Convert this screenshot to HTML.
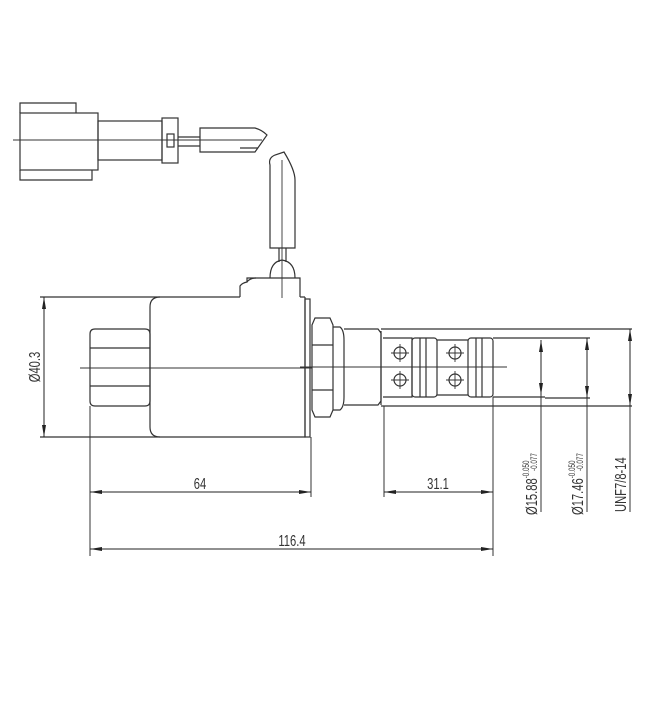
<!DOCTYPE html>
<html><head><style>body{margin:0;background:#fff}svg{display:block}</style></head><body>
<svg width="650" height="717" viewBox="0 0 650 717" xmlns="http://www.w3.org/2000/svg" font-family="Liberation Sans, sans-serif">
<defs><marker id="a" viewBox="0 0 12 4" refX="12" refY="2" markerWidth="12" markerHeight="4" orient="auto-start-reverse" markerUnits="userSpaceOnUse"><path d="M0,0L12,2L0,4z" fill="#222"/></marker></defs>
<g fill="none" stroke="#333" stroke-width="1.2">
<path d="M20,113V103H76V113"/>
<rect x="20" y="113" width="78" height="57"/>
<path d="M20,170V180H92V170"/>
<rect x="98" y="121" width="64" height="39"/>
<rect x="162" y="118" width="16" height="45"/>
<rect x="167" y="134" width="7" height="13"/>
<path d="M178,137H200M178,146H200"/>
<path d="M200,128H255Q262,130 267,135L255,152H200Z"/>
<path d="M240,148H258"/>
<line x1="13" y1="140" x2="262" y2="140" stroke-width="0.9"/>
<path d="M270,248V165Q268,158 275,155L284,152Q295,170 295,180V248Z"/>
<line x1="282" y1="160" x2="282" y2="298" stroke-width="0.9"/>
<path d="M279,248V262M286,248V262"/>
<path d="M270,278Q270,262 282,260Q295,262 295,278"/>
<path d="M240,297V286Q242,283 247,282V278H300V297"/>
<path d="M247,282Q250,278 256,278"/>
<path d="M40,297H240M300,297H305"/>
<path d="M160,297Q150,297 150,307V427Q150,437 160,437H305V297"/>
<path d="M40,437H160"/>
<rect x="305" y="299" width="5" height="138"/>
<path d="M90,334Q90,329 95,329H145Q150,329 150,334V401Q150,406 145,406H95Q90,406 90,401Z"/>
<path d="M90,348H150M90,386H150"/>
<line x1="80" y1="368" x2="150" y2="368" stroke-width="0.9"/>
<path d="M315,318H330L333,325V410L330,417H315L312,410V325Z"/>
<path d="M312,345H333M312,390H333"/>
<path d="M333,327H340Q344,330 344,340V397Q344,407 340,410H333"/>
<path d="M344,329H378L381,333V401L378,405H344"/>
<path d="M381,331V405"/>
<path d="M381,329H632M381,406H632"/>
<path d="M383,338H412V397H383"/>
<rect x="412" y="338" width="25" height="59" rx="3"/>
<path d="M420,338V397M426,338V397"/>
<path d="M437,340H468M437,395H468"/>
<rect x="468" y="338" width="25" height="59" rx="3"/>
<path d="M476,338V397M482,338V397"/>
<path d="M493,338H545M493,397H545M545,338H590M545,398H590"/>
<circle cx="400" cy="353" r="6"/><circle cx="400" cy="380" r="6"/>
<circle cx="455" cy="353" r="6"/><circle cx="455" cy="380" r="6"/>
<path d="M391,353H409M400,344V362M391,380H409M400,371V389M446,353H464M455,344V362M446,380H464M455,371V389" stroke-width="0.9"/>
<line x1="300" y1="367" x2="507" y2="367" stroke-width="0.9"/>
<line x1="150" y1="368" x2="312" y2="368" stroke-width="0.9"/>
<path d="M90,406V556M311,437V497M384,406V497M493,397V556" stroke-width="1"/>
<path d="M541,340V512M587,338V512M630,329V512" stroke-width="1"/>
</g>
<g stroke="#222" stroke-width="1" fill="none">
<line x1="44" y1="297" x2="44" y2="437" marker-start="url(#a)" marker-end="url(#a)"/>
<line x1="90" y1="492" x2="311" y2="492" marker-start="url(#a)" marker-end="url(#a)"/>
<line x1="384" y1="492" x2="493" y2="492" marker-start="url(#a)" marker-end="url(#a)"/>
<line x1="90" y1="549" x2="493" y2="549" marker-start="url(#a)" marker-end="url(#a)"/>
<line x1="541" y1="340" x2="541" y2="395" marker-start="url(#a)" marker-end="url(#a)"/>
<line x1="587" y1="338" x2="587" y2="398" marker-start="url(#a)" marker-end="url(#a)"/>
<line x1="630" y1="329" x2="630" y2="406" marker-start="url(#a)" marker-end="url(#a)"/>
</g>
<g fill="#333" font-size="16">
<text transform="translate(200,489) scale(0.7,1)" text-anchor="middle">64</text>
<text transform="translate(438,489) scale(0.7,1)" text-anchor="middle">31.1</text>
<text transform="translate(292,546) scale(0.7,1)" text-anchor="middle">116.4</text>
<text transform="translate(40,367) rotate(-90) scale(0.7,1)" text-anchor="middle">Ø40.3</text>
<text transform="translate(537,515) rotate(-90) scale(0.7,1)">Ø15.88<tspan font-size="9" dy="-8">-0.050</tspan></text>
<text transform="translate(537,471) rotate(-90) scale(0.7,1)" font-size="9">-0.077</text>
<text transform="translate(583,515) rotate(-90) scale(0.7,1)">Ø17.46<tspan font-size="9" dy="-8">-0.050</tspan></text>
<text transform="translate(583,471) rotate(-90) scale(0.7,1)" font-size="9">-0.077</text>
<text transform="translate(626,512) rotate(-90) scale(0.7,1)">UNF7/8-14</text>
</g>
</svg>
</body></html>
